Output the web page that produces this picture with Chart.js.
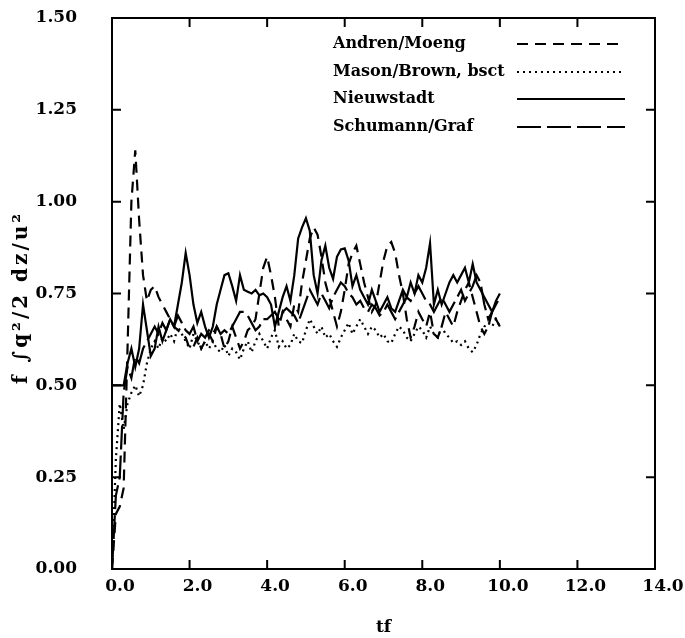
<!DOCTYPE html>
<html>
<head>
<meta charset="utf-8">
<script src="https://cdn.jsdelivr.net/npm/chart.js@4.4.0/dist/chart.umd.min.js"></script>
<style>
  html, body { margin: 0; padding: 0; background: #fff; }
  canvas { display: block; }
</style>
</head>
<body>
<canvas id="tkeChart" width="685" height="638"></canvas>
<script>
// time axis: tf = 0.0 ... 10.0 every 0.1
const tf = Array.from({ length: 101 }, (_, i) => i / 10);

const xTicks = [0, 2, 4, 6, 8, 10, 12, 14];
const yTicks = [0, 0.25, 0.5, 0.75, 1.0, 1.25, 1.5];

const seriesNames = ['Andren/Moeng', 'Mason/Brown, bsct', 'Nieuwstadt', 'Schumann/Graf'];
const yTitle = 'f ∫q²/2 dz/u²';

const andrenMoeng = [
  0.00, 0.15, 0.17, 0.22, 0.60, 1.00, 1.14, 0.95, 0.80, 0.73,
  0.76, 0.77, 0.74, 0.72, 0.70, 0.68, 0.66, 0.65, 0.64, 0.63,
  0.60, 0.605, 0.63, 0.60, 0.62, 0.64, 0.62, 0.66, 0.64, 0.60,
  0.62, 0.66, 0.63, 0.60, 0.62, 0.65, 0.66, 0.68, 0.75, 0.82,
  0.85, 0.80, 0.74, 0.66, 0.70, 0.68, 0.66, 0.72, 0.70, 0.78,
  0.84, 0.90, 0.93, 0.91, 0.85, 0.78, 0.74, 0.70, 0.66, 0.70,
  0.76, 0.83, 0.86, 0.88, 0.83, 0.78, 0.74, 0.70, 0.72, 0.78,
  0.84, 0.88, 0.89, 0.86, 0.80, 0.75, 0.68, 0.63, 0.66, 0.70,
  0.68, 0.66, 0.70, 0.64, 0.63, 0.66, 0.70, 0.68, 0.66, 0.70,
  0.73, 0.76, 0.78, 0.74, 0.70, 0.66, 0.64, 0.66, 0.70, 0.68,
  0.66
];

const masonBrown = [
  0.00, 0.30, 0.45, 0.38, 0.45, 0.48, 0.50, 0.47, 0.50, 0.56,
  0.60, 0.62, 0.60, 0.63, 0.62, 0.64, 0.62, 0.66, 0.64, 0.62,
  0.60, 0.64, 0.62, 0.60, 0.62, 0.60, 0.62, 0.60, 0.59, 0.61,
  0.58, 0.60, 0.59, 0.57, 0.60, 0.62, 0.59, 0.62, 0.64, 0.62,
  0.60, 0.63, 0.65, 0.605, 0.62, 0.60, 0.61, 0.64, 0.62, 0.615,
  0.65, 0.68, 0.66, 0.64, 0.66, 0.63, 0.64, 0.62, 0.605, 0.63,
  0.65, 0.67, 0.64, 0.66, 0.68, 0.66, 0.64, 0.66, 0.65, 0.63,
  0.64, 0.62, 0.615, 0.64, 0.66, 0.65, 0.63, 0.62, 0.64, 0.66,
  0.65, 0.63, 0.66, 0.64, 0.63, 0.66, 0.64, 0.63, 0.615, 0.62,
  0.61, 0.62, 0.60, 0.59, 0.61, 0.64, 0.66, 0.67, 0.66, 0.68,
  0.66
];

const nieuwstadt = [
  0.50, 0.50, 0.50, 0.50, 0.56, 0.60, 0.55, 0.60, 0.72, 0.65,
  0.58, 0.60, 0.66, 0.62, 0.65, 0.68, 0.66, 0.72, 0.78, 0.86,
  0.80, 0.72, 0.67, 0.70, 0.66, 0.63, 0.66, 0.72, 0.76, 0.80,
  0.805, 0.77, 0.73, 0.80, 0.76, 0.755, 0.75, 0.76, 0.745, 0.75,
  0.74, 0.72, 0.66, 0.70, 0.74, 0.77, 0.73, 0.80, 0.90, 0.93,
  0.955, 0.92, 0.80, 0.75, 0.84, 0.88, 0.82, 0.79, 0.85, 0.87,
  0.873, 0.84, 0.77, 0.80, 0.76, 0.74, 0.72, 0.76, 0.73, 0.70,
  0.72, 0.74, 0.71, 0.70, 0.73, 0.76, 0.74, 0.78, 0.75, 0.80,
  0.78, 0.82, 0.887, 0.72, 0.76, 0.72, 0.75, 0.78, 0.80, 0.78,
  0.80, 0.82, 0.78, 0.83, 0.78, 0.76, 0.74, 0.72, 0.70, 0.73,
  0.75
];

const schumannGraf = [
  0.00, 0.20, 0.25, 0.48, 0.55, 0.52, 0.58, 0.56, 0.60, 0.62,
  0.64, 0.66, 0.64, 0.67, 0.65, 0.68, 0.66, 0.69, 0.67, 0.65,
  0.64, 0.66, 0.62, 0.64, 0.63, 0.65, 0.64, 0.66, 0.64, 0.65,
  0.64, 0.66, 0.68, 0.70, 0.70, 0.69, 0.67, 0.65, 0.66, 0.68,
  0.68, 0.69, 0.70, 0.68, 0.70, 0.71, 0.70, 0.69, 0.67, 0.70,
  0.73, 0.76, 0.74, 0.72, 0.75, 0.73, 0.71, 0.74, 0.76, 0.78,
  0.77, 0.75, 0.74, 0.72, 0.73, 0.71, 0.70, 0.72, 0.71, 0.69,
  0.70, 0.72, 0.70, 0.68, 0.70, 0.72, 0.74, 0.73, 0.75, 0.77,
  0.75, 0.73, 0.72, 0.70, 0.72, 0.74, 0.72, 0.70, 0.72, 0.74,
  0.76, 0.73, 0.75, 0.77, 0.80, 0.78, 0.72, 0.68, 0.70, 0.72,
  0.74
];

const seriesValues = [andrenMoeng, masonBrown, nieuwstadt, schumannGraf];
const seriesDash = [[11, 7], [2, 4], [], [24, 6]];

const FONT = '"DejaVu Serif", "Liberation Serif", serif';

// frame box with inward ticks on all four sides
const frameTicks = {
  id: 'frameTicks',
  afterDraw(chart) {
    const { ctx, chartArea: a, scales } = chart;
    ctx.save();
    ctx.strokeStyle = '#000';
    ctx.lineWidth = 2;
    ctx.setLineDash([]);
    ctx.strokeRect(a.left, a.top, a.right - a.left, a.bottom - a.top);
    const len = 9;
    ctx.beginPath();
    xTicks.forEach(v => {
      const px = scales.x.getPixelForValue(v);
      ctx.moveTo(px, a.bottom); ctx.lineTo(px, a.bottom - len);
      ctx.moveTo(px, a.top); ctx.lineTo(px, a.top + len);
    });
    yTicks.forEach(v => {
      const py = scales.y.getPixelForValue(v);
      ctx.moveTo(a.left, py); ctx.lineTo(a.left + len, py);
      ctx.moveTo(a.right, py); ctx.lineTo(a.right - len, py);
    });
    ctx.stroke();

    // rotated y axis title, spaced out like the original
    ctx.translate(22, (a.top + a.bottom) / 2 + 4);
    ctx.rotate(-Math.PI / 2);
    ctx.font = 'bold 20px ' + FONT;
    ctx.letterSpacing = '3px';
    ctx.fillStyle = '#000';
    ctx.textAlign = 'center';
    ctx.textBaseline = 'middle';
    ctx.fillText(yTitle, 0, 0);
    ctx.restore();
  }
};

// legend inside the plot, text on the left and line sample on the right
const innerLegend = {
  id: 'innerLegend',
  afterDraw(chart) {
    const ctx = chart.ctx;
    const rows = [44, 72, 99, 127];
    ctx.save();
    ctx.font = 'bold 16px ' + FONT;
    ctx.fillStyle = '#000';
    ctx.textAlign = 'left';
    ctx.textBaseline = 'middle';
    chart.data.datasets.forEach((ds, i) => {
      const y = rows[i];
      ctx.fillText(ds.label, 333, y);
      ctx.beginPath();
      ctx.lineWidth = 2;
      ctx.strokeStyle = '#000';
      ctx.setLineDash(ds.borderDash || []);
      ctx.moveTo(517, y);
      ctx.lineTo(625, y);
      ctx.stroke();
    });
    ctx.restore();
  }
};

const datasets = seriesNames.map((name, i) => ({
  label: name,
  data: seriesValues[i].map((v, j) => ({ x: tf[j], y: v })),
  borderColor: '#000',
  borderWidth: 2.2,
  borderDash: seriesDash[i],
  pointRadius: 0,
  tension: 0,
  fill: false
}));

new Chart(document.getElementById('tkeChart'), {
  type: 'line',
  data: { datasets: datasets },
  options: {
    responsive: false,
    animation: false,
    layout: { padding: { left: 0, top: 18, right: 30, bottom: 0 } },
    plugins: {
      legend: { display: false },
      tooltip: { enabled: false }
    },
    scales: {
      x: {
        type: 'linear',
        min: 0,
        max: 14,
        afterFit: s => { s.height = 69; },
        afterBuildTicks: s => { s.ticks = xTicks.map(v => ({ value: v })); },
        grid: { display: false, drawTicks: false },
        border: { display: false },
        ticks: {
          color: '#000',
          font: { family: FONT, size: 17, weight: 'bold' },
          padding: 7,
          labelOffset: 8,
          maxRotation: 0,
          callback: v => Number(v).toFixed(1)
        },
        title: {
          display: true,
          text: 'tf',
          color: '#000',
          font: { family: FONT, size: 17, weight: 'bold' },
          padding: { top: 0, bottom: 0 }
        }
      },
      y: {
        min: 0,
        max: 1.5,
        afterFit: s => {
          s.width = 112;
          s.paddingTop = 0;
          s.paddingBottom = 0;
        },
        afterBuildTicks: s => { s.ticks = yTicks.map(v => ({ value: v })); },
        grid: { display: false, drawTicks: false },
        border: { display: false },
        ticks: {
          color: '#000',
          font: { family: FONT, size: 17, weight: 'bold' },
          padding: 35,
          callback: v => Number(v).toFixed(2)
        }
      }
    }
  },
  plugins: [frameTicks, innerLegend]
});
</script>
</body>
</html>
